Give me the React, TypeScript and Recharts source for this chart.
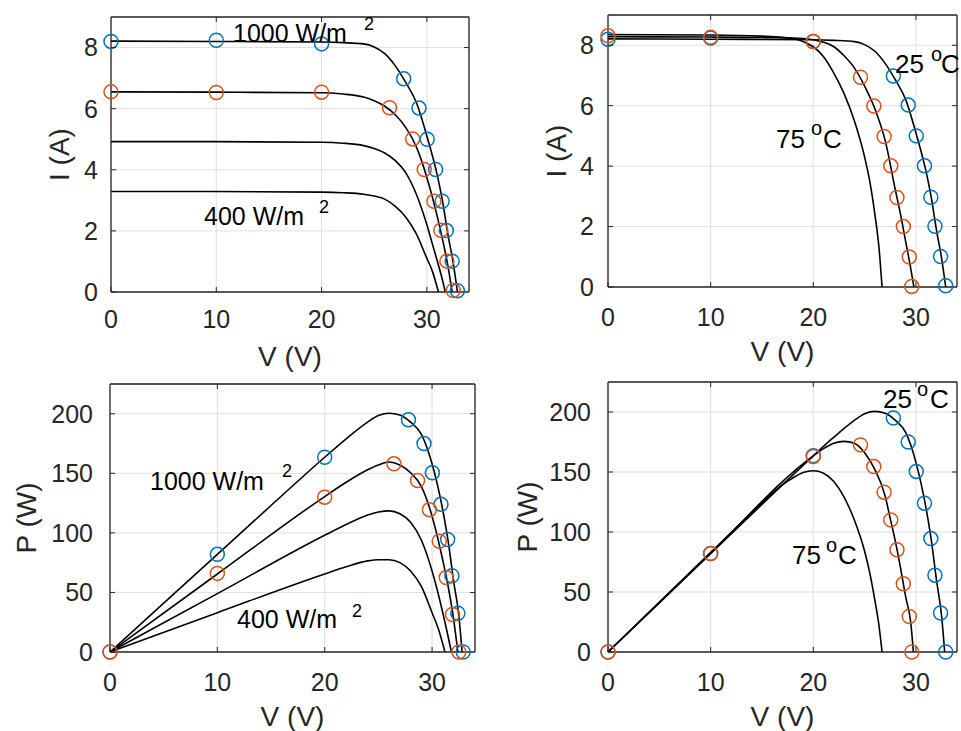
import { ComposedChart, Line, Scatter, XAxis, YAxis, CartesianGrid } from 'recharts';

// I-V curves at 25 °C for four irradiance levels
const vG1000 = [0, 10, 20, 22, 24, 25, 26, 27, 28, 29, 30, 31, 31.5, 32, 32.5, 32.9];
const iG1000 = [8.21, 8.2, 8.18, 8.16, 8.12, 8.02, 7.8, 7.4, 6.85, 6.2, 5.1, 3.8, 2.95, 1.88, 0.95, 0];
const vG800 = [0, 10, 20, 22, 24, 25, 26, 27, 28, 29, 30, 31, 31.5, 32, 32.4];
const iG800 = [6.55, 6.54, 6.52, 6.48, 6.38, 6.26, 6.08, 5.8, 5.38, 4.75, 3.75, 2.45, 1.7, 0.85, 0];
const vG600 = [0, 10, 20, 22, 24, 25, 26, 27, 28, 29, 30, 30.5, 31, 31.4, 31.75];
const iG600 = [4.92, 4.92, 4.9, 4.87, 4.79, 4.7, 4.55, 4.3, 3.9, 3.2, 2.2, 1.6, 1.0, 0.5, 0];
const vG400 = [0, 10, 20, 22, 24, 25, 26, 27, 28, 29, 30, 30.5, 31.1];
const iG400 = [3.29, 3.29, 3.27, 3.25, 3.2, 3.14, 3.04, 2.8, 2.45, 1.9, 1.1, 0.7, 0];

// P-V curves for the same irradiance levels
const pvG1000 = [0, 5, 10, 15, 20, 22, 24, 25, 26, 27, 28, 29, 30, 31, 31.5, 32, 32.5, 32.8];
const pG1000 = [0, 41, 82, 123, 163.5, 179, 193, 198.5, 200.5, 199, 193, 183, 158, 119, 93, 60, 30, 0];
const pvG800 = [0, 10, 20, 22, 24, 25, 26, 27, 28, 29, 30, 31, 31.5, 32, 32.4];
const pG800 = [0, 65.5, 130.5, 142.5, 153, 157, 159.5, 157, 150.5, 139, 114, 77, 55, 28, 0];
const pvG600 = [0, 10, 20, 22, 24, 25, 26, 27, 28, 29, 30, 31, 31.4, 31.8];
const pG600 = [0, 49, 98, 107, 115, 117.5, 118.5, 116, 109, 94, 68, 33, 17, 0];
const pvG400 = [0, 10, 20, 22, 24, 25, 26, 27, 28, 29, 30, 30.6, 31.2];
const pG400 = [0, 33, 65.5, 71.5, 76.5, 77.5, 77.5, 75, 68, 55, 33, 19, 0];

// I-V curves at 1000 W/m2 for 50 and 75 °C (25 °C is the 1000 W/m2 curve)
const vT50 = [0, 10, 18, 20, 21, 22, 23, 24, 25, 26, 27, 28, 28.5, 29, 29.5, 29.8];
const iT50 = [8.28, 8.27, 8.24, 8.18, 8.1, 7.95, 7.65, 7.25, 6.65, 5.9, 4.85, 3.2, 2.4, 1.5, 0.6, 0];
const vT75 = [0, 10, 15, 17, 18, 19, 20, 21, 22, 23, 24, 25, 25.5, 26, 26.4, 26.7];
const iT75 = [8.35, 8.34, 8.3, 8.26, 8.22, 8.12, 7.95, 7.62, 7.08, 6.4, 5.5, 4.3, 3.5, 2.4, 1.3, 0];

// P-V curves at 50 and 75 °C
const pvT50 = [0, 10, 20, 21, 22, 23, 24, 25, 26, 27, 27.5, 28, 28.5, 29, 29.5, 29.75];
const pT50 = [0, 82.5, 163.5, 169.5, 174, 175.5, 174, 166, 152, 130, 111, 92, 70, 46, 24, 0];
const pvT75 = [0, 10, 15, 17, 18, 19, 20, 21, 22, 23, 24, 25, 25.5, 26, 26.4, 26.7];
const pT75 = [0, 83, 124, 139.5, 145, 149.5, 151, 149, 142, 129, 110, 84, 66, 43, 22, 0];

// measured points (circles)
const mV25 = [0, 10, 20, 27.8, 29.25, 30.03, 30.83, 31.45, 31.85, 32.4, 32.9];
const mI25 = [8.2, 8.24, 8.12, 6.98, 6.02, 5.0, 4.01, 2.97, 2.01, 1.01, 0.04];
const mP25 = [0, 82, 163.5, 195, 175, 150.5, 124, 94.5, 64, 32.5, 0];
const mV800 = [0, 10, 20, 26.45, 28.65, 29.75, 30.67, 31.32, 31.9, 32.5];
const mI800 = [6.55, 6.53, 6.54, 6.03, 5.01, 4.01, 2.97, 2.02, 1.01, 0.05];
const mP800 = [0, 66, 130, 158, 144, 119.5, 93, 62.5, 31.5, 0];
const mV50 = [0, 10, 20, 24.6, 25.9, 26.9, 27.55, 28.15, 28.77, 29.35, 29.6];
const mI50 = [8.31, 8.26, 8.12, 6.94, 5.99, 4.98, 4.01, 2.96, 2.0, 0.99, 0.02];
const mP50 = [0, 82, 163, 172.6, 154.5, 133.2, 110.1, 85.2, 56.9, 29.6, 0];

const vTicks = [0, 10, 20, 30];
const iTicks = [0, 2, 4, 6, 8];
const pTicks = [0, 50, 100, 150, 200];
const V_MAX = 34;

const zip = (xs: number[], ys: number[]) => xs.map((v, k) => ({ v, y: ys[k] }));

const FONT = '"Liberation Sans", Arial, Helvetica, sans-serif';
const INK = '#262626';
const GRID = '#dfdfdf';
const BLUE = '#0072BD';
const ORANGE = '#D95319';
const TICK_LEN = 5;
const Y_AXIS_W = 100;

const BottomTick = (props: any) => {
  const { x, y, payload, gap } = props;
  const axisY = y - gap;
  return (
    <g>
      <line x1={x} y1={axisY} x2={x} y2={axisY - TICK_LEN} stroke={INK} strokeWidth={1} />
      <text x={x} y={y} dy="0.71em" textAnchor="middle" fill={INK} fontSize={25}>
        {payload.value}
      </text>
    </g>
  );
};

const LeftTick = (props: any) => {
  const { x, y, payload, gap } = props;
  const axisX = x + gap;
  return (
    <g>
      <line x1={axisX} y1={y} x2={axisX + TICK_LEN} y2={y} stroke={INK} strokeWidth={1} />
      <text x={x} y={y} dy="0.355em" textAnchor="end" fill={INK} fontSize={25}>
        {payload.value}
      </text>
    </g>
  );
};

const ring = (color: string) => (p: any) => (
  <circle cx={p.cx} cy={p.cy} r={7} fill="none" stroke={color} strokeWidth={1.5} />
);

type Pt = { v: number; y: number };

interface PanelCfg {
  left: number;
  top: number;
  width: number;
  height: number;
  margin: { top: number; right: number; left: number; bottom: number };
  xAxisHeight: number;
  xGap: number;
  yGap: number;
  yMax: number;
  yTicks: number[];
  yLabel: string;
  yLabelOffset: number;
  curves: Pt[][];
  blue: Pt[];
  orange: Pt[];
}

const plotBox = (p: PanelCfg) => {
  const x = p.left + p.margin.left + Y_AXIS_W;
  const y = p.top + p.margin.top;
  return {
    x,
    y,
    w: p.left + p.width - p.margin.right - x,
    h: p.top + p.height - p.xAxisHeight - y,
  };
};

const Panel = (p: PanelCfg) => (
  <div style={{ position: 'absolute', left: p.left, top: p.top }}>
    <ComposedChart width={p.width} height={p.height} margin={p.margin}>
      <CartesianGrid stroke={GRID} strokeWidth={1} />
      <XAxis
        dataKey="v"
        type="number"
        domain={[0, V_MAX]}
        ticks={vTicks}
        interval={0}
        height={p.xAxisHeight}
        tickLine={false}
        tickSize={0}
        tickMargin={p.xGap}
        axisLine={{ stroke: INK, strokeWidth: 1.3 }}
        tick={(t: any) => <BottomTick {...t} gap={p.xGap} />}
        label={{ value: 'V (V)', position: 'insideBottom', offset: p.xAxisHeight - 74, fontSize: 28, fill: INK }}
      />
      <YAxis
        type="number"
        domain={[0, p.yMax]}
        ticks={p.yTicks}
        interval={0}
        width={Y_AXIS_W}
        tickLine={false}
        tickSize={0}
        tickMargin={p.yGap}
        axisLine={{ stroke: INK, strokeWidth: 1.3 }}
        tick={(t: any) => <LeftTick {...t} gap={p.yGap} />}
        label={{
          value: p.yLabel,
          angle: -90,
          position: 'insideLeft',
          offset: p.yLabelOffset,
          fontSize: 28,
          fill: INK,
          style: { textAnchor: 'middle' },
        }}
      />
      {p.curves.map((c, k) => (
        <Line
          key={k}
          data={c}
          dataKey="y"
          type="monotone"
          stroke="#000"
          strokeWidth={1.6}
          dot={false}
          activeDot={false}
          isAnimationActive={false}
        />
      ))}
      <Scatter data={p.blue} dataKey="y" shape={ring(BLUE)} isAnimationActive={false} />
      <Scatter data={p.orange} dataKey="y" shape={ring(ORANGE)} isAnimationActive={false} />
    </ComposedChart>
  </div>
);

// top and right edges of the MATLAB-style box, with inward ticks
const Frame = ({ p }: { p: PanelCfg }) => {
  const b = plotBox(p);
  return (
    <g stroke={INK} fill="none">
      <line x1={b.x} y1={b.y} x2={b.x + b.w} y2={b.y} strokeWidth={1.3} />
      <line x1={b.x + b.w} y1={b.y} x2={b.x + b.w} y2={b.y + b.h} strokeWidth={1.3} />
      {vTicks.slice(1).map((v) => {
        const x = b.x + (v / V_MAX) * b.w;
        return <line key={`t${v}`} x1={x} y1={b.y} x2={x} y2={b.y + TICK_LEN} strokeWidth={1} />;
      })}
      {p.yTicks.slice(1).map((t) => {
        const y = b.y + b.h - (t / p.yMax) * b.h;
        return <line key={`r${t}`} x1={b.x + b.w} y1={y} x2={b.x + b.w - TICK_LEN} y2={y} strokeWidth={1} />;
      })}
    </g>
  );
};

const App = () => {
  const curveIV25 = zip(vG1000, iG1000);
  const curvePV25 = zip(pvG1000, pG1000);
  const panels: PanelCfg[] = [
    {
      left: 0,
      top: 0,
      width: 480,
      height: 380,
      margin: { top: 17, right: 11, left: 11, bottom: 0 },
      xAxisHeight: 88,
      xGap: 18,
      yGap: 13,
      yMax: 9,
      yTicks: iTicks,
      yLabel: 'I (A)',
      yLabelOffset: 48,
      curves: [curveIV25, zip(vG800, iG800), zip(vG600, iG600), zip(vG400, iG400)],
      blue: zip(mV25, mI25),
      orange: zip(mV800, mI800),
    },
    {
      left: 480,
      top: 0,
      width: 481,
      height: 380,
      margin: { top: 15, right: 4, left: 28, bottom: 0 },
      xAxisHeight: 93,
      xGap: 21,
      yGap: 14,
      yMax: 9,
      yTicks: iTicks,
      yLabel: 'I (A)',
      yLabelOffset: 48.5,
      curves: [curveIV25, zip(vT50, iT50), zip(vT75, iT75)],
      blue: zip(mV25, mI25),
      orange: zip(mV50, mI50),
    },
    {
      left: 0,
      top: 370,
      width: 480,
      height: 361,
      margin: { top: 14, right: 5, left: 10, bottom: 0 },
      xAxisHeight: 79,
      xGap: 21,
      yGap: 17,
      yMax: 225,
      yTicks: pTicks,
      yLabel: 'P (W)',
      yLabelOffset: 16.5,
      curves: [curvePV25, zip(pvG800, pG800), zip(pvG600, pG600), zip(pvG400, pG400)],
      blue: zip(mV25, mP25),
      orange: zip(mV800, mP800),
    },
    {
      left: 480,
      top: 370,
      width: 481,
      height: 361,
      margin: { top: 12, right: 4, left: 28, bottom: 0 },
      xAxisHeight: 79,
      xGap: 21,
      yGap: 17,
      yMax: 225,
      yTicks: pTicks,
      yLabel: 'P (W)',
      yLabelOffset: 19,
      curves: [curvePV25, zip(pvT50, pT50), zip(pvT75, pT75)],
      blue: zip(mV25, mP25),
      orange: zip(mV50, mP50),
    },
  ];

  return (
    <div
      style={{
        position: 'absolute',
        left: 0,
        top: 0,
        width: 961,
        height: 731,
        background: '#fff',
        fontFamily: FONT,
        overflow: 'hidden',
      }}
    >
      {panels.map((p, k) => (
        <Panel key={k} {...p} />
      ))}

      {/* box frames and annotations */}
      <svg
        width={961}
        height={731}
        style={{ position: 'absolute', left: 0, top: 0, pointerEvents: 'none' }}
        fontFamily={FONT}
      >
        {panels.map((p, k) => (
          <Frame key={k} p={p} />
        ))}
        <g fill="#000">
          <text x={233} y={42} fontSize={25}>1000 W/m</text>
          <text x={364} y={30} fontSize={18}>2</text>
          <text x={204} y={225} fontSize={25}>400 W/m</text>
          <text x={319} y={213} fontSize={18}>2</text>

          <text x={895} y={73} fontSize={26}>25</text>
          <text x={931} y={61} fontSize={20}>o</text>
          <text x={941} y={73} fontSize={26}>C</text>
          <text x={776} y={148} fontSize={26}>75</text>
          <text x={811} y={135} fontSize={20}>o</text>
          <text x={823} y={148} fontSize={26}>C</text>

          <text x={150} y={490} fontSize={25}>1000 W/m</text>
          <text x={282} y={477} fontSize={18}>2</text>
          <text x={237} y={628} fontSize={25}>400 W/m</text>
          <text x={352} y={617} fontSize={18}>2</text>

          <text x={883} y={408} fontSize={26}>25</text>
          <text x={917} y={396} fontSize={20}>o</text>
          <text x={930} y={408} fontSize={26}>C</text>
          <text x={792} y={564} fontSize={26}>75</text>
          <text x={826} y={552} fontSize={20}>o</text>
          <text x={838} y={564} fontSize={26}>C</text>
        </g>
      </svg>
    </div>
  );
};

export default App;
